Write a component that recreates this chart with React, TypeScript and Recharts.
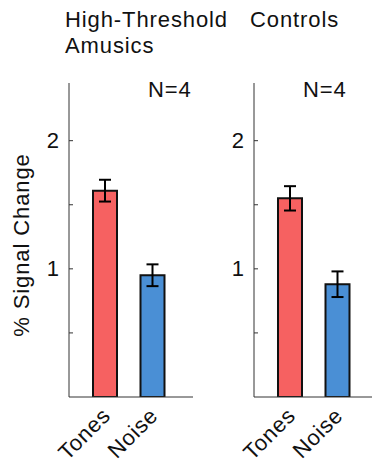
import React from "react";
import { BarChart, Bar, XAxis, YAxis, ErrorBar, Cell } from "recharts";

const conditions = ["Tones", "Noise"];
const amusicsMeans = [1.61, 0.95];
const amusicsErrors = [0.085, 0.085];
const controlsMeans = [1.55, 0.88];
const controlsErrors = [0.095, 0.1];
const barColors = ["#f66161", "#4a8fd5"];
const yTicks = [0.5, 1, 1.5, 2];
const yLabeled = [1, 2];
const panelTitles = [["High-Threshold", "Amusics"], ["Controls"]];
const groupSizes = ["N=4", "N=4"];

const FONT = '"Liberation Sans", Arial, Helvetica, sans-serif';
const AXIS = "#333";

const toRows = (means: number[], errs: number[]) =>
  conditions.map((name, i) => ({ name, value: means[i], err: errs[i] }));

const YTick = (props: any) => {
  const { x, y, payload } = props;
  return (
    <g>
      <line x1={x + 10} x2={x + 14} y1={y} y2={y} stroke={AXIS} strokeWidth={1} />
      {yLabeled.includes(payload.value) && (
        <text
          x={x}
          y={y}
          textAnchor="end"
          dominantBaseline="central"
          fontFamily={FONT}
          fontSize={22}
          fill="#111"
        >
          {payload.value}
        </text>
      )}
    </g>
  );
};

// rotated category labels, ending just right of the bar centre
const XTick = (props: any) => {
  const { x, y, payload } = props;
  const tx = x + 7;
  const ty = y + 20;
  return (
    <text
      x={tx}
      y={ty}
      transform={`rotate(-45 ${tx} ${ty})`}
      textAnchor="end"
      fontFamily={FONT}
      fontSize={22}
      letterSpacing={0.8}
      fill="#111"
    >
      {payload.value}
    </text>
  );
};

function Panel({ rows }: { rows: { name: string; value: number; err: number }[] }) {
  return (
    <BarChart
      width={200}
      height={464}
      data={rows}
      margin={{ top: 83, right: 7, bottom: 7, left: 0 }}
      barCategoryGap={0}
    >
      <XAxis
        dataKey="name"
        height={60}
        interval={0}
        axisLine={{ stroke: AXIS, strokeWidth: 1 }}
        tickLine={false}
        tickSize={0}
        tickMargin={0}
        padding={{ left: 12, right: 17 }}
        tick={<XTick />}
      />
      <YAxis
        type="number"
        width={69}
        domain={[0, 2.45]}
        ticks={yTicks}
        allowDataOverflow
        axisLine={{ stroke: AXIS, strokeWidth: 1 }}
        tickLine={false}
        tickSize={0}
        tickMargin={10}
        tick={<YTick />}
      />
      <Bar
        dataKey="value"
        barSize={24}
        stroke="#111"
        strokeWidth={2}
        isAnimationActive={false}
      >
        {rows.map((r, i) => (
          <Cell key={r.name} fill={barColors[i]} />
        ))}
        <ErrorBar
          dataKey="err"
          width={6}
          stroke="#000"
          strokeWidth={2}
          isAnimationActive={false}
        />
      </Bar>
    </BarChart>
  );
}

export default function App() {
  const textStyle = { fontFamily: FONT, fontSize: 22, letterSpacing: 0.9, fill: "#111" };
  return (
    <div
      style={{
        position: "absolute",
        left: 0,
        top: 0,
        width: 372,
        height: 464,
        overflow: "hidden",
        background: "#fff",
      }}
    >
      <div style={{ position: "absolute", left: 0, top: 0 }}>
        <Panel rows={toRows(amusicsMeans, amusicsErrors)} />
      </div>
      <div style={{ position: "absolute", left: 185, top: 0 }}>
        <Panel rows={toRows(controlsMeans, controlsErrors)} />
      </div>
      <svg
        width={372}
        height={464}
        style={{ position: "absolute", left: 0, top: 0, pointerEvents: "none" }}
      >
        <text x={65} y={27} {...textStyle}>{panelTitles[0][0]}</text>
        <text x={65} y={53} {...textStyle}>{panelTitles[0][1]}</text>
        <text x={250} y={27} {...textStyle}>{panelTitles[1][0]}</text>
        <text x={148} y={97} {...textStyle}>{groupSizes[0]}</text>
        <text x={303} y={97} {...textStyle}>{groupSizes[1]}</text>
        <text
          x={29}
          y={245}
          transform="rotate(-90 29 245)"
          textAnchor="middle"
          {...textStyle}
        >
          % Signal Change
        </text>
      </svg>
    </div>
  );
}
